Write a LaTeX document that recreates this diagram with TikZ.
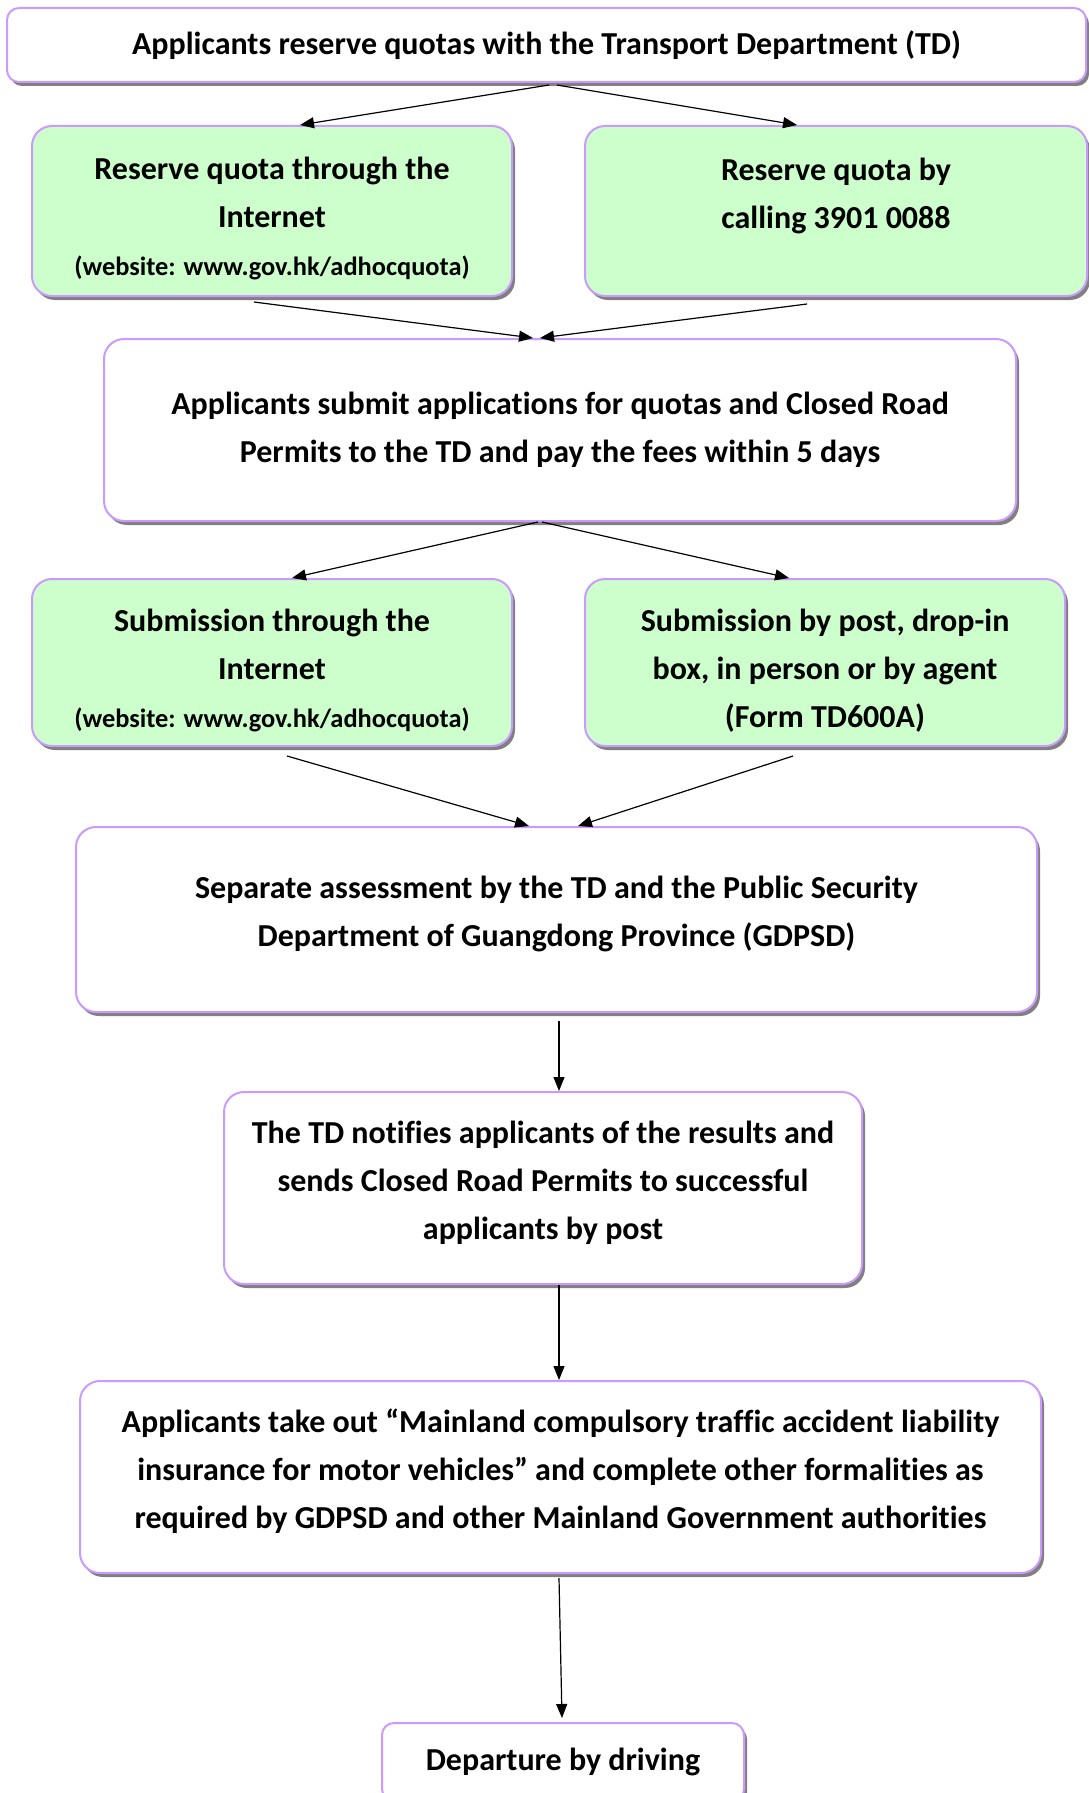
\documentclass[tikz,border=0pt]{standalone}
\usepackage{fontspec}
\setmainfont{Carlito}[Ligatures=NoCommon]
\usetikzlibrary{shadows,arrows.meta}

\definecolor{boxline}{HTML}{CC99FF}
\definecolor{boxgreen}{HTML}{CCFFCC}
\newcommand{\siteline}{{\fontsize{13.2}{24}\selectfont(website: www.gov.hk/adhocquota)}}
\newcommand{\toppad}{\rule{0pt}{19pt}}

\begin{document}
\begin{tikzpicture}[x=0.5pt,y=-0.5pt,
  stepnode/.style={draw=boxline, line width=1pt, fill=white, rounded corners=10pt,
    align=center, inner sep=0pt, font=\bfseries\fontsize{16}{24}\selectfont,
    drop shadow={shadow xshift=1.5pt, shadow yshift=-2pt, fill=black!50, opacity=1}},
  greennode/.style={stepnode, fill=boxgreen},
  lowpad/.style={execute at end node=\rule[-8pt]{0pt}{0pt}},
  arr/.style={-{Triangle[length=7pt,width=5.5pt]}, line width=0.6pt}]

\useasboundingbox (0,0) rectangle (1088,1793);

\node[stepnode, rounded corners=6pt, minimum width=539.5pt, minimum height=37pt] (reserve) at (546.5,45) {Applicants reserve quotas with the Transport Department (TD)};

\node[greennode, minimum width=240pt, minimum height=85pt] (netquota) at (272,211) {\toppad Reserve quota through the\\Internet\\\siteline};
\node[greennode, minimum width=251pt, minimum height=85pt] (phonequota) at (836,211) {\toppad Reserve quota by\\calling 3901 0088\\{\fontsize{13.2}{24}\selectfont\vphantom{(w}}};

\node[stepnode, minimum width=456pt, minimum height=91pt] (submit) at (560,430) {Applicants submit applications for quotas and Closed Road\\Permits to the TD and pay the fees within 5 days};

\node[greennode, minimum width=240pt, minimum height=83.5pt] (netsubmit) at (272,662.5) {\toppad Submission through the\\Internet\\\siteline};
\node[greennode, minimum width=240pt, minimum height=83.5pt] (postsubmit) at (825,662.5) {\toppad Submission by post, drop-in\\box, in person or by agent\\(Form TD600A)};

\node[stepnode, lowpad, minimum width=480.5pt, minimum height=92.5pt] (assess) at (556.5,919.5) {Separate assessment by the TD and the Public Security\\Department of Guangdong Province (GDPSD)};

\node[stepnode, lowpad, minimum width=319pt, minimum height=96pt] (notify) at (543,1188) {The TD notifies applicants of the results and\\sends Closed Road Permits to successful\\applicants by post};

\node[stepnode, lowpad, minimum width=480.5pt, minimum height=96pt] (insure) at (560.5,1477) {Applicants take out “Mainland compulsory traffic accident liability\\insurance for motor vehicles” and complete other formalities as\\required by GDPSD and other Mainland Government authorities};

\node[stepnode, rounded corners=6pt, anchor=north, minimum width=181pt, minimum height=39pt] (drive) at (563,1722) {Departure by driving};

\draw[arr] ([xshift=1.25pt,yshift=-1pt]reserve.south) -- ([xshift=14pt]netquota.north);
\draw[arr] ([xshift=5.25pt,yshift=-1pt]reserve.south) -- ([xshift=-19.5pt]phonequota.north);

\draw[arr] ([xshift=-9pt,yshift=-2.5pt]netquota.south) -- ([xshift=-13.5pt]submit.north);
\draw[arr] ([xshift=-14.5pt,yshift=-3.5pt]phonequota.south) -- ([xshift=-10pt]submit.north);

\draw[arr] ([xshift=-11pt]submit.south) -- ([xshift=10pt]netsubmit.north);
\draw[arr] ([xshift=-9pt]submit.south) -- ([xshift=-18pt]postsubmit.north);

\draw[arr] ([xshift=7.5pt,yshift=-4.5pt]netsubmit.south) -- ([xshift=-13.75pt]assess.north);
\draw[arr] ([xshift=-16pt,yshift=-4.5pt]postsubmit.south) -- ([xshift=10.75pt]assess.north);

\draw[arr] ([xshift=1.25pt,yshift=-4pt]assess.south) -- ([xshift=8pt]notify.north);
\draw[arr] ([xshift=8pt]notify.south) -- ([xshift=-0.75pt]insure.north);
\draw[arr] ([xshift=-0.75pt,yshift=-2pt]insure.south) -- ([xshift=-0.5pt,yshift=2pt]drive.north);

\end{tikzpicture}
\end{document}
